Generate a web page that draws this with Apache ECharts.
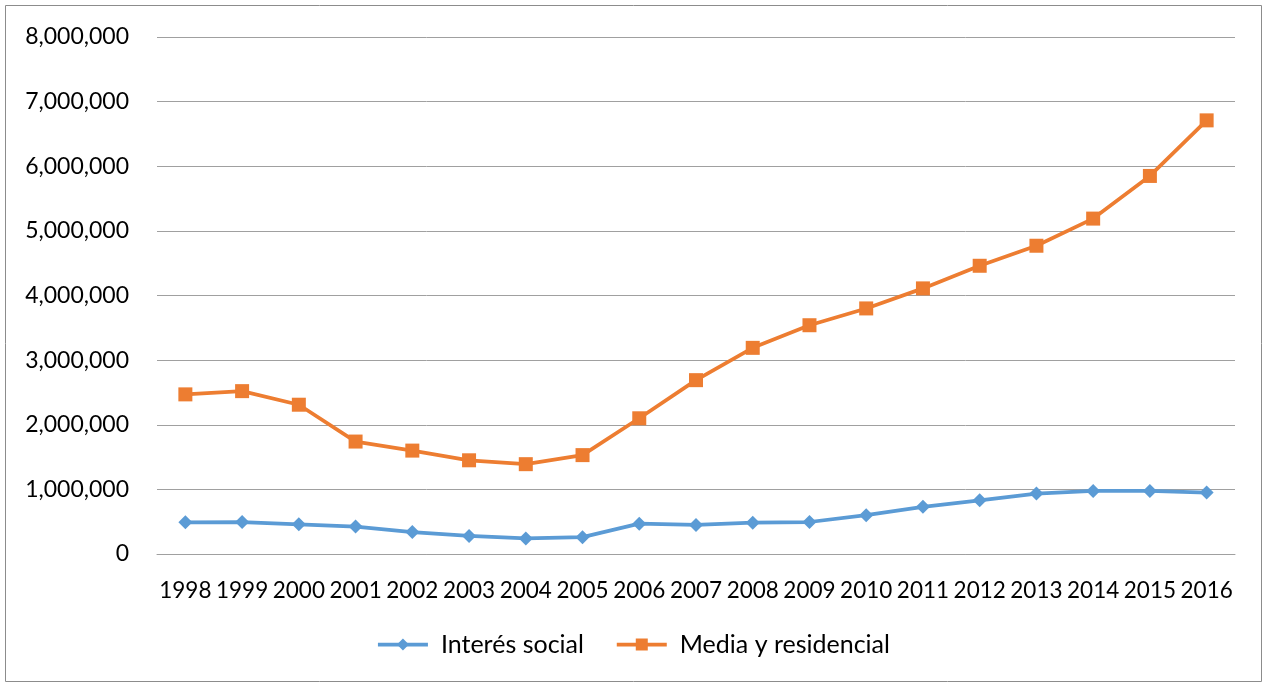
<!DOCTYPE html>
<html>
<head>
<meta charset="utf-8">
<script src="https://cdn.jsdelivr.net/npm/echarts@6/dist/echarts.min.js"></script>
<style>
  html, body { margin: 0; padding: 0; background: #fff; }
  #chart { width: 1266px; height: 684px; }
</style>
</head>
<body>
<div id="chart"></div>
<script>
// Years on the category axis
const years = ['1998','1999','2000','2001','2002','2003','2004','2005','2006','2007',
               '2008','2009','2010','2011','2012','2013','2014','2015','2016'];

// Housing units by segment
const interesSocial = [490000, 495000, 460000, 425000, 340000, 280000, 240000, 260000, 470000, 450000,
                       485000, 495000, 600000, 730000, 830000, 935000, 975000, 975000, 950000];
const mediaResidencial = [2470000, 2520000, 2310000, 1740000, 1600000, 1450000, 1390000, 1530000, 2100000, 2690000,
                          3190000, 3540000, 3800000, 4110000, 4460000, 4770000, 5190000, 5850000, 6710000];

const chart = echarts.init(document.getElementById('chart'));
const fontFamily = 'Lato, "Open Sans", sans-serif';

chart.setOption({
  animation: false,
  backgroundColor: '#ffffff',
  graphic: [{
    type: 'rect',
    shape: { x: 5.5, y: 5.5, width: 1256, height: 676 },
    style: { fill: 'none', stroke: '#8c8c8c', lineWidth: 1 },
    silent: true
  }],
  grid: { left: 157, right: 31, top: 37, bottom: 130 },
  legend: {
    bottom: 22,
    left: 'center',
    itemWidth: 50,
    itemHeight: 15,
    itemGap: 31,
    lineStyle: { width: 3.75 },
    textStyle: { fontFamily, fontSize: 25, color: '#000', padding: [0, 0, 0, 8] },
    data: ['Interés social', 'Media y residencial']
  },
  xAxis: {
    type: 'category',
    data: years,
    boundaryGap: true,
    axisLine: { lineStyle: { color: '#a0a0a0', width: 1 } },
    axisTick: { show: false },
    axisLabel: { interval: 0, fontFamily, fontSize: 22.5, color: '#000', margin: 25 }
  },
  yAxis: {
    type: 'value',
    min: 0,
    max: 8000000,
    interval: 1000000,
    axisLine: { show: false },
    axisTick: { show: false },
    splitLine: { lineStyle: { color: '#a0a0a0', width: 1 } },
    axisLabel: {
      fontFamily, fontSize: 23, color: '#000', margin: 28,
      formatter: v => v.toLocaleString('en-US')
    }
  },
  series: [
    {
      name: 'Interés social',
      type: 'line',
      data: interesSocial,
      symbol: 'diamond',
      symbolSize: 14,
      lineStyle: { color: '#5b9bd5', width: 3.75 },
      itemStyle: { color: '#5b9bd5' }
    },
    {
      name: 'Media y residencial',
      type: 'line',
      data: mediaResidencial,
      symbol: 'rect',
      symbolSize: 14,
      lineStyle: { color: '#ed7d31', width: 3.75 },
      itemStyle: { color: '#ed7d31' }
    }
  ]
});
</script>
</body>
</html>
